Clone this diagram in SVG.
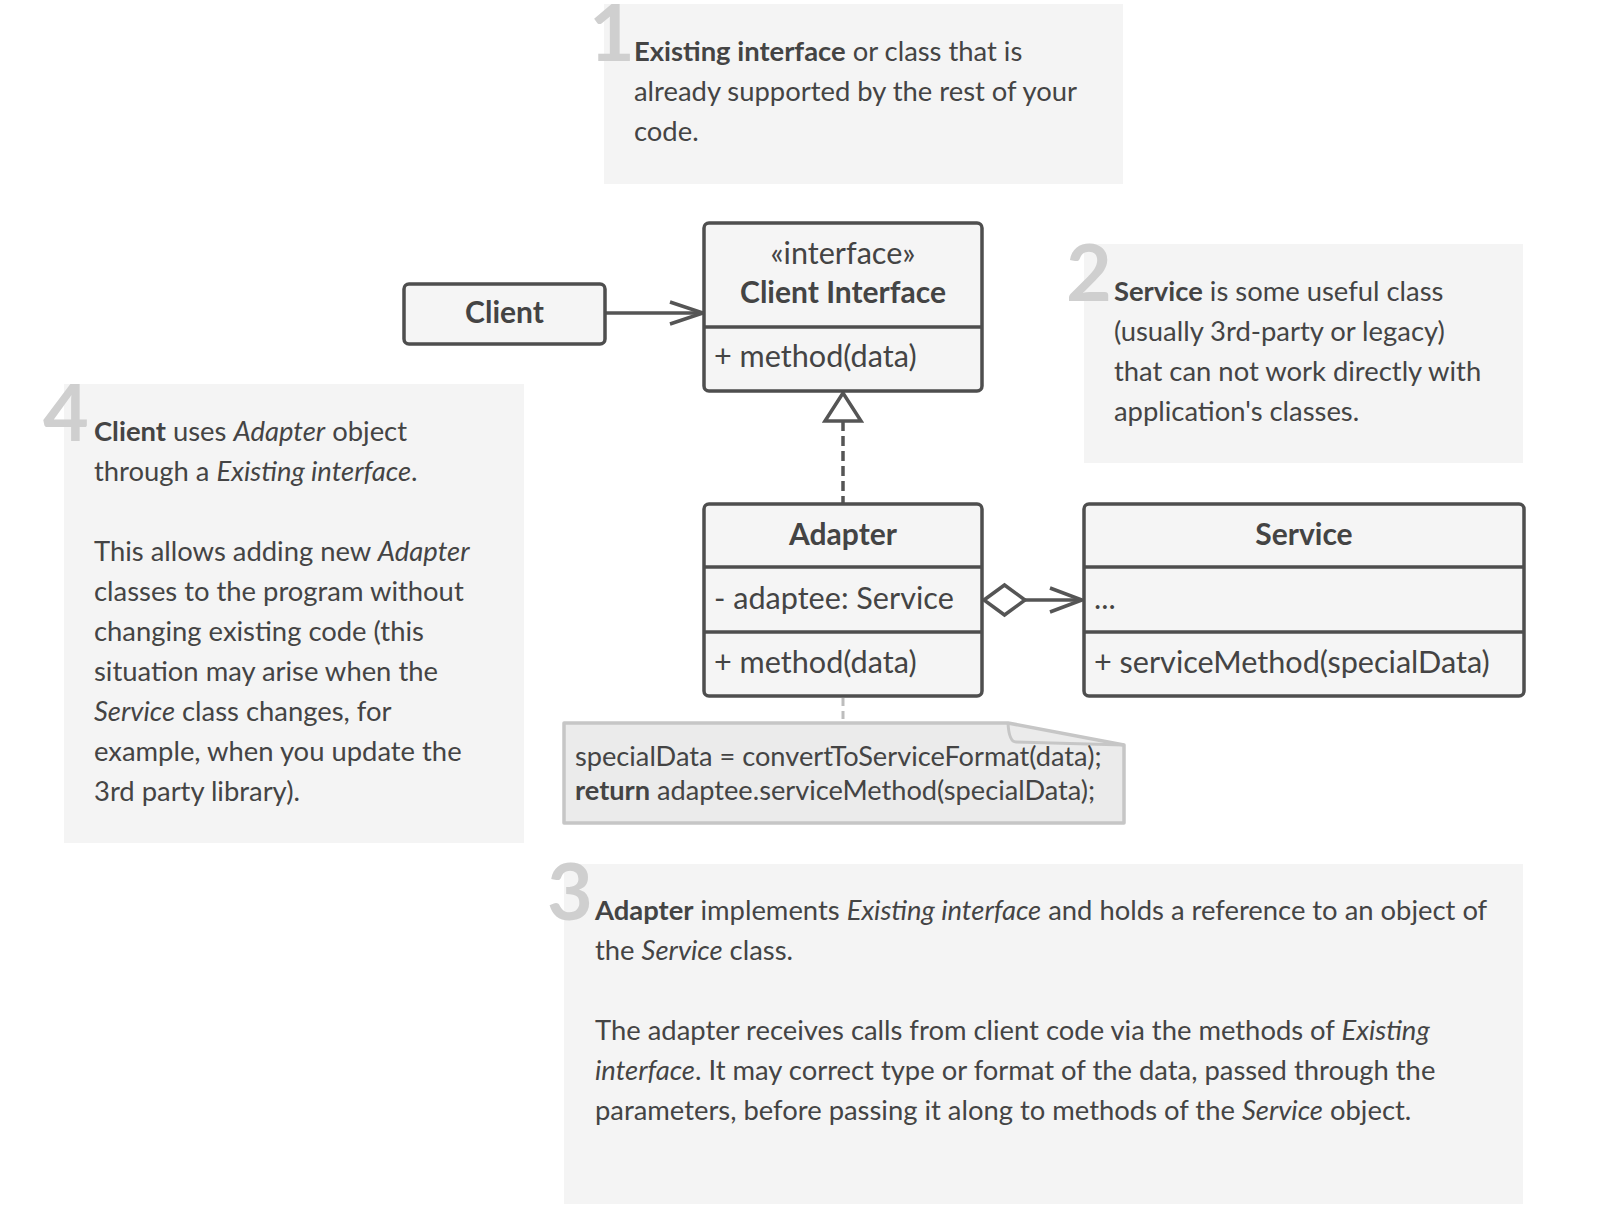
<svg xmlns="http://www.w3.org/2000/svg" width="1600" height="1228" viewBox="0 0 1600 1228">
<style>
.note{fill:#f4f4f4}
.num{font-family:Lato,"Liberation Sans",sans-serif;font-weight:700;font-size:79px;fill:#cfcfcf}
.t{font-family:Lato,"Liberation Sans",sans-serif;font-size:27.4px;fill:#444}
.b{font-weight:700}
.i{font-style:italic}
.box{fill:#f5f5f5;stroke:#4e4e4e;stroke-width:3.5}
.div{stroke:#4e4e4e;stroke-width:3.5}
.bt{font-family:Lato,"Liberation Sans",sans-serif;font-size:30.6px;fill:#444}
.bb{font-family:Lato,"Liberation Sans",sans-serif;font-size:30px;font-weight:700;fill:#444}
.code{font-family:Lato,"Liberation Sans",sans-serif;font-size:27.2px;fill:#444}
.ln{fill:none;stroke:#555;stroke-width:3.5}
.mid{text-anchor:middle}
</style>

<g id="note1">
<rect class="note" x="604" y="4" width="519" height="180"/>
<text class="num" x="589" y="61">1</text>
<text class="t" x="634" y="61"><tspan class="b">Existing interface</tspan> or class that is</text>
<text class="t" x="634" y="101">already supported by the rest of your</text>
<text class="t" x="634" y="141">code.</text>
</g>

<g id="note2">
<rect class="note" x="1084" y="244" width="439" height="219"/>
<text class="num" x="1066" y="301">2</text>
<text class="t" x="1114" y="301"><tspan class="b">Service</tspan> is some useful class</text>
<text class="t" x="1114" y="341">(usually 3rd-party or legacy)</text>
<text class="t" x="1114" y="381">that can not work directly with</text>
<text class="t" x="1114" y="421">application's classes.</text>
</g>

<g id="note4">
<rect class="note" x="64" y="384" width="460" height="459"/>
<text class="num" x="43" y="441">4</text>
<text class="t" x="94" y="441"><tspan class="b">Client</tspan> uses <tspan class="i">Adapter</tspan> object</text>
<text class="t" x="94" y="481">through a <tspan class="i">Existing interface</tspan>.</text>
<text class="t" x="94" y="561">This allows adding new <tspan class="i">Adapter</tspan></text>
<text class="t" x="94" y="601">classes to the program without</text>
<text class="t" x="94" y="641">changing existing code (this</text>
<text class="t" x="94" y="681">situation may arise when the</text>
<text class="t" x="94" y="721"><tspan class="i">Service</tspan> class changes, for</text>
<text class="t" x="94" y="761">example, when you update the</text>
<text class="t" x="94" y="801">3rd party library).</text>
</g>

<g id="note3">
<rect class="note" x="564" y="864" width="959" height="340"/>
<text class="num" x="547" y="920">3</text>
<text class="t" x="595" y="920"><tspan class="b">Adapter</tspan> implements <tspan class="i">Existing interface</tspan> and holds a reference to an object of</text>
<text class="t" x="595" y="960">the <tspan class="i">Service</tspan> class.</text>
<text class="t" x="595" y="1040">The adapter receives calls from client code via the methods of <tspan class="i">Existing</tspan></text>
<text class="t" x="595" y="1080"><tspan class="i">interface</tspan>. It may correct type or format of the data, passed through the</text>
<text class="t" x="595" y="1120">parameters, before passing it along to methods of the <tspan class="i">Service</tspan> object.</text>
</g>

<g id="connectors">
<line class="ln" x1="605" y1="313" x2="702" y2="313"/>
<polyline class="ln" points="670,302 703,313 670,324"/>
<line class="ln" x1="843" y1="421" x2="843" y2="503" stroke-dasharray="10 5"/>
<polygon class="ln" points="843,393 825,421 861,421" style="fill:#fff"/>
<polygon class="ln" points="984,600 1004.5,585 1025,600 1004.5,615" style="fill:#fff"/>
<line class="ln" x1="1025" y1="600" x2="1081" y2="600"/>
<polyline class="ln" points="1050,588 1082,600 1050,612"/>
<line x1="843" y1="698" x2="843" y2="722" stroke="#bdbdbd" stroke-width="3" stroke-dasharray="8 5"/>
</g>

<g id="client">
<rect class="box" x="404" y="284" width="201" height="60" rx="5"/>
<text class="bb mid" x="504.5" y="323">Client</text>
</g>

<g id="client-interface">
<rect class="box" x="704" y="223" width="278" height="168" rx="5"/>
<line class="div" x1="704" y1="327" x2="982" y2="327"/>
<text class="bt mid" x="843" y="264">«interface»</text>
<text class="bb mid" x="843" y="303">Client Interface</text>
<text class="bt" x="714" y="367">+ method(data)</text>
</g>

<g id="adapter">
<rect class="box" x="704" y="504" width="278" height="192" rx="5"/>
<line class="div" x1="704" y1="567" x2="982" y2="567"/>
<line class="div" x1="704" y1="632" x2="982" y2="632"/>
<text class="bb mid" x="843" y="545">Adapter</text>
<text class="bt" x="714" y="609">- adaptee: Service</text>
<text class="bt" x="714" y="673">+ method(data)</text>
</g>

<g id="service">
<rect class="box" x="1084" y="504" width="440" height="192" rx="5"/>
<line class="div" x1="1084" y1="567" x2="1524" y2="567"/>
<line class="div" x1="1084" y1="632" x2="1524" y2="632"/>
<text class="bb mid" x="1304" y="545">Service</text>
<text class="bt" x="1094" y="609">...</text>
<text class="bt" x="1094" y="673">+ serviceMethod(specialData)</text>
</g>

<g id="code-note">
<path d="M564,723 H1008 L1124,745 V823 H564 Z" fill="#ebebeb" stroke="#c6c6c6" stroke-width="3.5" stroke-linejoin="round"/>
<path d="M1008,723 Q1009,742 1016,742 L1124,745" fill="none" stroke="#c6c6c6" stroke-width="3" stroke-linejoin="round"/>
<text class="code" x="575" y="766">specialData = convertToServiceFormat(data);</text>
<text class="code" x="575" y="800"><tspan class="b">return</tspan> adaptee.serviceMethod(specialData);</text>
</g>
</svg>
